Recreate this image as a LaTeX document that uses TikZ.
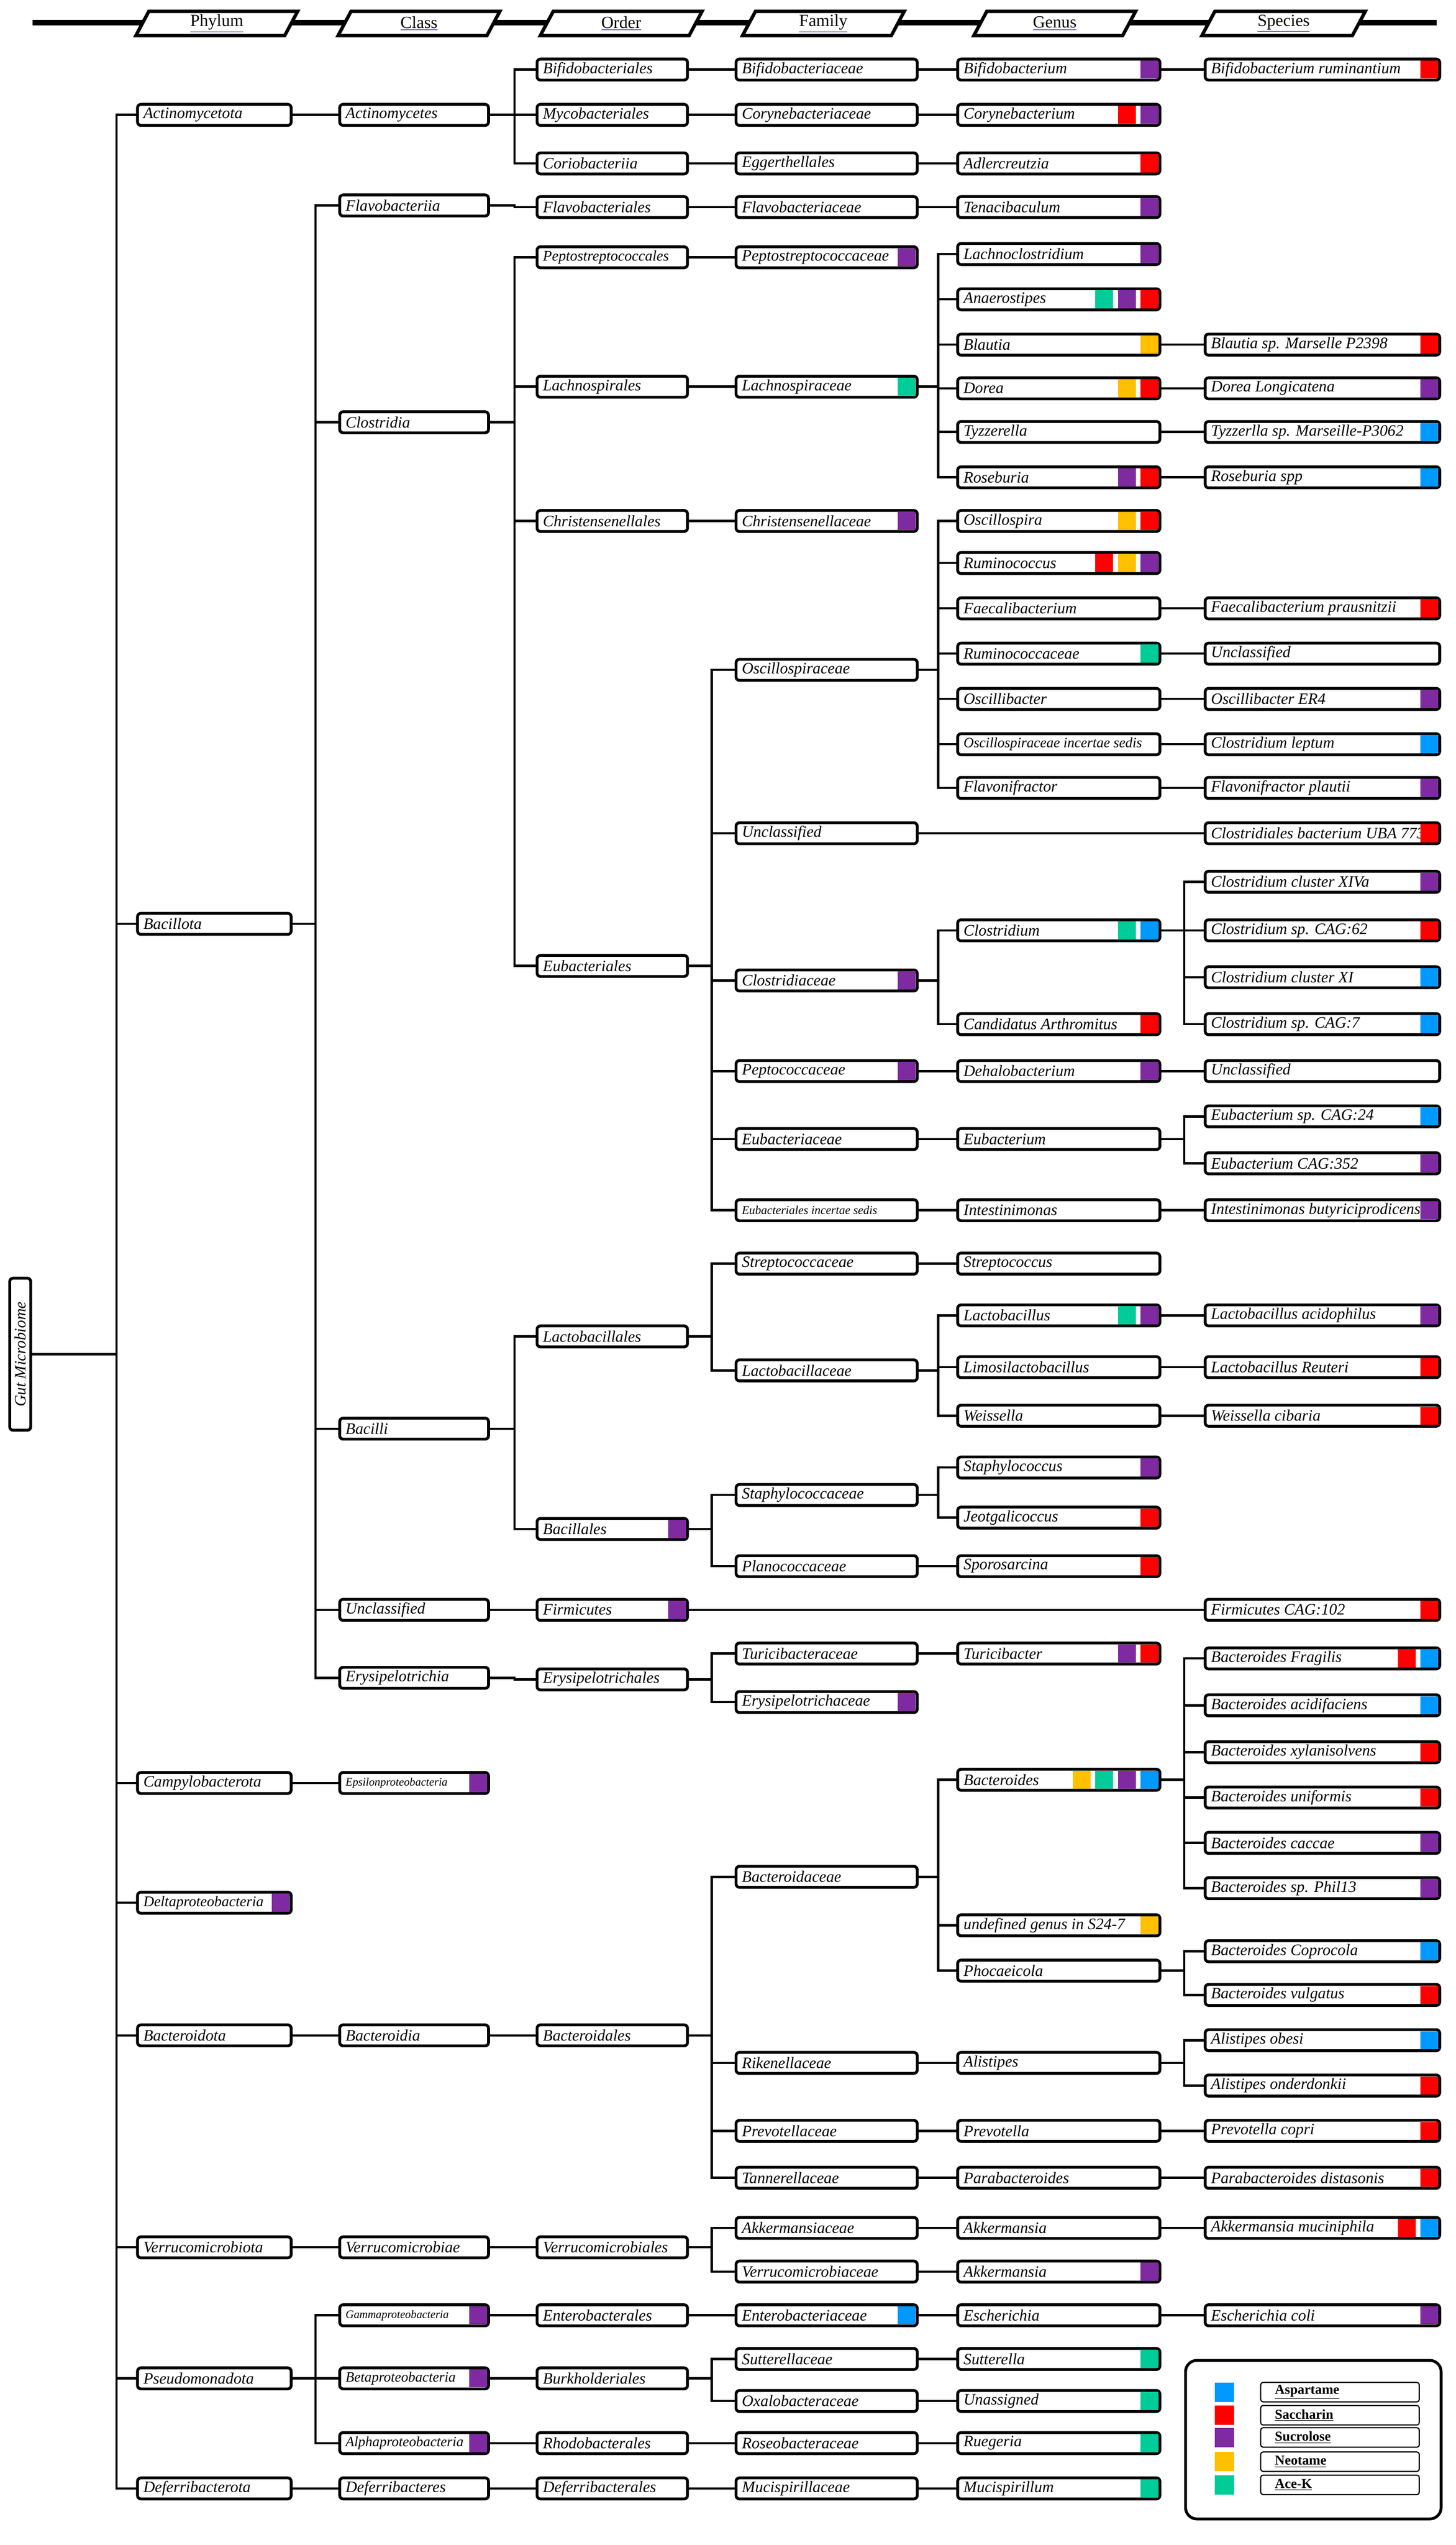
\documentclass[tikz,border=0pt]{standalone}
\usepackage{fontspec}
\setmainfont{Liberation Serif}
\usetikzlibrary{calc}
\definecolor{asp}{HTML}{0099FF}
\definecolor{sac}{HTML}{FF0000}
\definecolor{suc}{HTML}{7F2AA0}
\definecolor{neo}{HTML}{FFC000}
\definecolor{ace}{HTML}{00CC99}
\definecolor{hdrblue}{HTML}{1A1A99}
\tikzset{
 bx/.style={draw,fill=white,line width=2.5pt,rounded corners=3pt,minimum height=0.65cm,inner sep=0pt,outer sep=0pt,anchor=west},
 txt/.style={font=\fontsize{14}{16}\selectfont\itshape,inner sep=0pt},
 ln/.style={line width=2pt},
 hdr/.style={draw,fill=white,line width=3pt},
}
\newcommand\bx[6][]{\node[bx,minimum width={(#4-#3)*0.05cm}] (#2) at (#3,#5) {};
 \node[anchor=west,txt,#1] at ([xshift=5pt]#2.west) {#6};}
\newcommand\mk[2]{\foreach \c [count=\i] in {#2}{\fill[\c] ($(#1.east)+({-0.9-14*(\i-1)-11},-5.6)$) rectangle ($(#1.east)+({-0.9-14*(\i-1)},5.6)$);}}
\newcommand\cn[3]{\draw[ln] (#1.east) -| ([xshift=-#3*0.05cm]#2.west) -- (#2.west);}
\newcommand\bP[4][]{\bx[#1]{#2}{85}{180}{#3}{#4}}
\newcommand\bC[4][]{\bx[#1]{#2}{210}{302}{#3}{#4}}
\newcommand\bO[4][]{\bx[#1]{#2}{332}{425}{#3}{#4}}
\newcommand\bF[4][]{\bx[#1]{#2}{455}{567}{#3}{#4}}
\newcommand\bG[4][]{\bx[#1]{#2}{592}{717}{#3}{#4}}
\newcommand\bS[4][]{\bx[#1]{#2}{745}{890}{#3}{#4}}
\newcommand\hd[3]{\draw[hdr] (#1+4,7) -- (#2+4,7) -- (#2-4,22) -- (#1-4,22) -- cycle;
 \node[font=\fontsize{15}{17}\selectfont] at ({(#1+#2)/2},14.5) {{\color{hdrblue}\underline{{\color{black}#3}}}};}
\begin{document}
\begin{tikzpicture}[x=0.05cm,y=-0.05cm]
\useasboundingbox (0,0) rectangle (900,1573);
% header
\draw[line width=5pt] (20,14) -- (888,14);
\hd{88}{180}{Phylum}\hd{213}{305}{Class}\hd{338}{430}{Order}
\hd{463}{555}{Family}\hd{606}{698}{Genus}\hd{747}{840}{Species}
% root
\node[bx,anchor=center,minimum width=4.7cm,minimum height=0.65cm,rotate=90] (gut) at (12.5,837) {};
\node[txt,rotate=90] at (gut.center) {Gut Microbiome};
% phylum
\bP{pact}{71}{Actinomycetota}
\bP{pbac}{571}{Bacillota}
\bP{pcamp}{1102}{Campylobacterota}
\bP[font=\fontsize{13}{15}\selectfont\itshape]{pdelta}{1176}{Deltaproteobacteria}\mk{pdelta}{suc}
\bP{pbact}{1258}{Bacteroidota}
\bP{pverr}{1389}{Verrucomicrobiota}
\bP{ppseu}{1470}{Pseudomonadota}
\bP{pdef}{1538}{Deferribacterota}
% class
\bC{cact}{71}{Actinomycetes}
\bC{cflavo}{127}{Flavobacteriia}
\bC{cclos}{261}{Clostridia}
\bC{cbacilli}{883}{Bacilli}
\bC{cuncl}{995}{Unclassified}
\bC{cery}{1037}{Erysipelotrichia}
\bC[font=\fontsize{10}{12}\selectfont\itshape]{ceps}{1102}{Epsilonproteobacteria}\mk{ceps}{suc}
\bC{cbactd}{1258}{Bacteroidia}
\bC{cverr}{1389}{Verrucomicrobiae}
\bC[font=\fontsize{10}{12}\selectfont\itshape]{cgamma}{1431}{Gammaproteobacteria}\mk{cgamma}{suc}
\bC[font=\fontsize{12.5}{14}\selectfont\itshape]{cbeta}{1470}{Betaproteobacteria}\mk{cbeta}{suc}
\bC[font=\fontsize{12.5}{14}\selectfont\itshape]{calpha}{1510}{Alphaproteobacteria}\mk{calpha}{suc}
\bC{cdef}{1538}{Deferribacteres}
% order
\bO{obifido}{43}{Bifidobacteriales}
\bO{omyco}{71}{Mycobacteriales}
\bO{ocorio}{101}{Coriobacteriia}
\bO{oflavo}{128}{Flavobacteriales}
\bO[font=\fontsize{13}{15}\selectfont\itshape]{opepto}{159}{Peptostreptococcales}
\bO{olachno}{239}{Lachnospirales}
\bO{ochrist}{322}{Christensenellales}
\bO{oeubact}{597}{Eubacteriales}
\bO{olacto}{826}{Lactobacillales}
\bO{obacil}{945}{Bacillales}\mk{obacil}{suc}
\bO{ofirm}{995}{Firmicutes}\mk{ofirm}{suc}
\bO{oery}{1038}{Erysipelotrichales}
\bO{obacteroidales}{1258}{Bacteroidales}
\bO{overr}{1389}{Verrucomicrobiales}
\bO{oentero}{1431}{Enterobacterales}
\bO{oburk}{1470}{Burkholderiales}
\bO{orhodo}{1510}{Rhodobacterales}
\bO{odef}{1538}{Deferribacterales}
% family
\bF{fbifido}{43}{Bifidobacteriaceae}
\bF{fcoryne}{71}{Corynebacteriaceae}
\bF{fegg}{101}{Eggerthellales}
\bF{fflavo}{128}{Flavobacteriaceae}
\bF{fpepto}{159}{Peptostreptococcaceae}\mk{fpepto}{suc}
\bF{flachno}{239}{Lachnospiraceae}\mk{flachno}{ace}
\bF{fchrist}{322}{Christensenellaceae}\mk{fchrist}{suc}
\bF{foscillo}{414}{Oscillospiraceae}
\bF{funcl}{515}{Unclassified}
\bF{fclostr}{606}{Clostridiaceae}\mk{fclostr}{suc}
\bF{fpeptoc}{662}{Peptococcaceae}\mk{fpeptoc}{suc}
\bF{feubac}{704}{Eubacteriaceae}
\bF[font=\fontsize{10.5}{12}\selectfont\itshape]{fincert}{748}{Eubacteriales incertae sedis}
\bF{fstrep}{781}{Streptococcaceae}
\bF{flactob}{847}{Lactobacillaceae}
\bF{fstaph}{924}{Staphylococcaceae}
\bF{fplano}{968}{Planococcaceae}
\bF{fturici}{1022}{Turicibacteraceae}
\bF{ferysip}{1052}{Erysipelotrichaceae}\mk{ferysip}{suc}
\bF{fbacteroid}{1160}{Bacteroidaceae}
\bF{friken}{1275}{Rikenellaceae}
\bF{fprevot}{1317}{Prevotellaceae}
\bF{ftanner}{1346}{Tannerellaceae}
\bF{fakk}{1377}{Akkermansiaceae}
\bF{fverrm}{1404}{Verrucomicrobiaceae}
\bF{fentero}{1431}{Enterobacteriaceae}\mk{fentero}{asp}
\bF{fsutter}{1458}{Sutterellaceae}
\bF{foxalo}{1484}{Oxalobacteraceae}
\bF{froseo}{1510}{Roseobacteraceae}
\bF{fmucis}{1538}{Mucispirillaceae}
% genus
\bG{gbifido}{43}{Bifidobacterium}\mk{gbifido}{suc}
\bG{gcoryne}{71}{Corynebacterium}\mk{gcoryne}{suc,sac}
\bG{gadler}{101}{Adlercreutzia}\mk{gadler}{sac}
\bG{gtenaci}{128}{Tenacibaculum}\mk{gtenaci}{suc}
\bG{glachno}{157}{Lachnoclostridium}\mk{glachno}{suc}
\bG{ganaero}{185}{Anaerostipes}\mk{ganaero}{sac,suc,ace}
\bG{gblautia}{213}{Blautia}\mk{gblautia}{neo}
\bG{gdorea}{240}{Dorea}\mk{gdorea}{sac,neo}
\bG{gtyzz}{267}{Tyzzerella}
\bG{grose}{295}{Roseburia}\mk{grose}{sac,suc}
\bG{goscsp}{322}{Oscillospira}\mk{goscsp}{sac,neo}
\bG{grumino}{348}{Ruminococcus}\mk{grumino}{suc,neo,sac}
\bG{gfaecal}{376}{Faecalibacterium}
\bG{grumcae}{404}{Ruminococcaceae}\mk{grumcae}{ace}
\bG{goscb}{432}{Oscillibacter}
\bG[font=\fontsize{12.5}{14}\selectfont\itshape]{gincert}{460}{Oscillospiraceae incertae sedis}
\bG{gflavon}{487}{Flavonifractor}
\bG{gclostr}{575}{Clostridium}\mk{gclostr}{asp,ace}
\bG{gcandid}{633}{Candidatus Arthromitus}\mk{gcandid}{sac}
\bG{gdehalo}{662}{Dehalobacterium}\mk{gdehalo}{suc}
\bG{geubact}{704}{Eubacterium}
\bG{gintest}{748}{Intestinimonas}
\bG{gstrep}{781}{Streptococcus}
\bG{glactob}{813}{Lactobacillus}\mk{glactob}{suc,ace}
\bG{glimosi}{845}{Limosilactobacillus}
\bG{gweiss}{875}{Weissella}
\bG{gstaph}{907}{Staphylococcus}\mk{gstaph}{suc}
\bG{gjeot}{938}{Jeotgalicoccus}\mk{gjeot}{sac}
\bG{gsporo}{968}{Sporosarcina}\mk{gsporo}{sac}
\bG{gturici}{1022}{Turicibacter}\mk{gturici}{sac,suc}
\bG{gbacter}{1100}{Bacteroides}\mk{gbacter}{asp,suc,ace,neo}
\bG{gundef}{1190}{undefined genus in S24-7}\mk{gundef}{neo}
\bG{gphoc}{1218}{Phocaeicola}
\bG{galist}{1275}{Alistipes}
\bG{gprevot}{1317}{Prevotella}
\bG{gparab}{1346}{Parabacteroides}
\bG{gakka}{1377}{Akkermansia}
\bG{gakkb}{1404}{Akkermansia}\mk{gakkb}{suc}
\bG{gesch}{1431}{Escherichia}
\bG{gsutter}{1458}{Sutterella}\mk{gsutter}{ace}
\bG{gunass}{1484}{Unassigned}\mk{gunass}{ace}
\bG{grueg}{1510}{Ruegeria}\mk{grueg}{ace}
\bG{gmucis}{1538}{Mucispirillum}\mk{gmucis}{ace}
% species
\bS{sbifido}{43}{Bifidobacterium ruminantium}\mk{sbifido}{sac}
\bS{sblautia}{213}{Blautia sp. Marselle P2398}\mk{sblautia}{sac}
\bS{sdorea}{240}{Dorea Longicatena}\mk{sdorea}{suc}
\bS{styzz}{267}{Tyzzerlla sp. Marseille-P3062}\mk{styzz}{asp}
\bS{srose}{295}{Roseburia spp}\mk{srose}{asp}
\bS{sfaecal}{376}{Faecalibacterium prausnitzii}\mk{sfaecal}{sac}
\bS{suncla}{404}{Unclassified}
\bS{soscer}{432}{Oscillibacter ER4}\mk{soscer}{suc}
\bS{sleptum}{460}{Clostridium leptum}\mk{sleptum}{asp}
\bS{splautii}{487}{Flavonifractor plautii}\mk{splautii}{suc}
\bS{suba}{515}{Clostridiales bacterium UBA 7739}\mk{suba}{sac}
\bS{sxiva}{545}{Clostridium cluster XIVa}\mk{sxiva}{suc}
\bS{scag62}{575}{Clostridium sp. CAG:62}\mk{scag62}{sac}
\bS{sxi}{604}{Clostridium cluster XI}\mk{sxi}{asp}
\bS{scag7}{633}{Clostridium sp. CAG:7}\mk{scag7}{asp}
\bS{sunclb}{662}{Unclassified}
\bS{scag24}{690}{Eubacterium sp. CAG:24}\mk{scag24}{asp}
\bS{scag352}{719}{Eubacterium CAG:352}\mk{scag352}{suc}
\bS{sintest}{748}{Intestinimonas butyriciprodicens}\mk{sintest}{suc}
\bS{sacido}{813}{Lactobacillus acidophilus}\mk{sacido}{suc}
\bS{sreut}{845}{Lactobacillus Reuteri}\mk{sreut}{sac}
\bS{scibar}{875}{Weissella cibaria}\mk{scibar}{sac}
\bS{sfirm}{995}{Firmicutes CAG:102}\mk{sfirm}{sac}
\bS{sfrag}{1025}{Bacteroides Fragilis}\mk{sfrag}{asp,sac}
\bS{sacidif}{1054}{Bacteroides acidifaciens}\mk{sacidif}{asp}
\bS{sxylan}{1083}{Bacteroides xylanisolvens}\mk{sxylan}{sac}
\bS{sunif}{1111}{Bacteroides uniformis}\mk{sunif}{sac}
\bS{scaccae}{1139}{Bacteroides caccae}\mk{scaccae}{suc}
\bS{sphil}{1167}{Bacteroides sp. Phil13}\mk{sphil}{suc}
\bS{scopro}{1206}{Bacteroides Coprocola}\mk{scopro}{asp}
\bS{svulg}{1233}{Bacteroides vulgatus}\mk{svulg}{sac}
\bS{sobesi}{1261}{Alistipes obesi}\mk{sobesi}{asp}
\bS{sonder}{1289}{Alistipes onderdonkii}\mk{sonder}{sac}
\bS{scopri}{1317}{Prevotella copri}\mk{scopri}{sac}
\bS{sdist}{1346}{Parabacteroides distasonis}\mk{sdist}{sac}
\bS{smucin}{1377}{Akkermansia muciniphila}\mk{smucin}{asp,sac}
\bS{scoli}{1431}{Escherichia coli}\mk{scoli}{suc}
% connectors root->phylum
\foreach \p in {pact,pbac,pcamp,pdelta,pbact,pverr,ppseu,pdef}{\draw[ln] (gut.south) -| ([xshift=-13*0.05cm]\p.west) -- (\p.west);}
\cn{pact}{cact}{15}
\foreach \c in {cflavo,cclos,cbacilli,cuncl,cery}{\cn{pbac}{\c}{15}}
\cn{pcamp}{ceps}{15}\cn{pbact}{cbactd}{15}\cn{pverr}{cverr}{15}
\foreach \c in {cgamma,cbeta,calpha}{\cn{ppseu}{\c}{15}}
\cn{pdef}{cdef}{15}
% class->order
\foreach \c in {obifido,omyco,ocorio}{\cn{cact}{\c}{14}}
\cn{cflavo}{oflavo}{14}
\foreach \c in {opepto,olachno,ochrist,oeubact}{\cn{cclos}{\c}{14}}
\foreach \c in {olacto,obacil}{\cn{cbacilli}{\c}{14}}
\cn{cuncl}{ofirm}{14}\cn{cery}{oery}{14}\cn{cbactd}{obacteroidales}{14}
\cn{cverr}{overr}{14}\cn{cgamma}{oentero}{14}\cn{cbeta}{oburk}{14}
\cn{calpha}{orhodo}{14}\cn{cdef}{odef}{14}
% order->family
\cn{obifido}{fbifido}{15}\cn{omyco}{fcoryne}{15}\cn{ocorio}{fegg}{15}
\cn{oflavo}{fflavo}{15}\cn{opepto}{fpepto}{15}\cn{olachno}{flachno}{15}
\cn{ochrist}{fchrist}{15}
\foreach \c in {foscillo,funcl,fclostr,fpeptoc,feubac,fincert}{\cn{oeubact}{\c}{15}}
\foreach \c in {fstrep,flactob}{\cn{olacto}{\c}{15}}
\foreach \c in {fstaph,fplano}{\cn{obacil}{\c}{15}}
\cn{ofirm}{sfirm}{15}
\foreach \c in {fturici,ferysip}{\cn{oery}{\c}{15}}
\foreach \c in {fbacteroid,friken,fprevot,ftanner}{\cn{obacteroidales}{\c}{15}}
\foreach \c in {fakk,fverrm}{\cn{overr}{\c}{15}}
\cn{oentero}{fentero}{15}
\foreach \c in {fsutter,foxalo}{\cn{oburk}{\c}{15}}
\cn{orhodo}{froseo}{15}\cn{odef}{fmucis}{15}
% family->genus
\cn{fbifido}{gbifido}{12}\cn{fcoryne}{gcoryne}{12}\cn{fegg}{gadler}{12}\cn{fflavo}{gtenaci}{12}
\foreach \c in {glachno,ganaero,gblautia,gdorea,gtyzz,grose}{\cn{flachno}{\c}{12}}
\foreach \c in {goscsp,grumino,gfaecal,grumcae,goscb,gincert,gflavon}{\cn{foscillo}{\c}{12}}
\cn{funcl}{suba}{12}
\foreach \c in {gclostr,gcandid}{\cn{fclostr}{\c}{12}}
\cn{fpeptoc}{gdehalo}{12}\cn{feubac}{geubact}{12}\cn{fincert}{gintest}{12}\cn{fstrep}{gstrep}{12}
\foreach \c in {glactob,glimosi,gweiss}{\cn{flactob}{\c}{12}}
\foreach \c in {gstaph,gjeot}{\cn{fstaph}{\c}{12}}
\cn{fplano}{gsporo}{12}\cn{fturici}{gturici}{12}
\foreach \c in {gbacter,gundef,gphoc}{\cn{fbacteroid}{\c}{12}}
\cn{friken}{galist}{12}\cn{fprevot}{gprevot}{12}\cn{ftanner}{gparab}{12}
\cn{fakk}{gakka}{12}\cn{fverrm}{gakkb}{12}\cn{fentero}{gesch}{12}
\cn{fsutter}{gsutter}{12}\cn{foxalo}{gunass}{12}\cn{froseo}{grueg}{12}\cn{fmucis}{gmucis}{12}
% genus->species
\cn{gbifido}{sbifido}{13}\cn{gblautia}{sblautia}{13}\cn{gdorea}{sdorea}{13}\cn{gtyzz}{styzz}{13}
\cn{grose}{srose}{13}\cn{gfaecal}{sfaecal}{13}\cn{grumcae}{suncla}{13}\cn{goscb}{soscer}{13}
\cn{gincert}{sleptum}{13}\cn{gflavon}{splautii}{13}
\foreach \c in {sxiva,scag62,sxi,scag7}{\cn{gclostr}{\c}{13}}
\cn{gdehalo}{sunclb}{13}
\foreach \c in {scag24,scag352}{\cn{geubact}{\c}{13}}
\cn{gintest}{sintest}{13}\cn{glactob}{sacido}{13}\cn{glimosi}{sreut}{13}\cn{gweiss}{scibar}{13}
\foreach \c in {sfrag,sacidif,sxylan,sunif,scaccae,sphil}{\cn{gbacter}{\c}{13}}
\foreach \c in {scopro,svulg}{\cn{gphoc}{\c}{13}}
\foreach \c in {sobesi,sonder}{\cn{galist}{\c}{13}}
\cn{gprevot}{scopri}{13}\cn{gparab}{sdist}{13}\cn{gakka}{smucin}{13}\cn{gesch}{scoli}{13}
% legend
\node[draw,line width=2.5pt,rounded corners=10pt,minimum width=7.9cm,minimum height=4.9cm,anchor=north west,inner sep=0pt] (leg) at (732,1458) {};
\foreach \y/\c/\t [count=\k] in {1478.5/asp/Aspartame,1492.8/sac/Saccharin,1506.5/suc/Sucrolose,1521.5/neo/Neotame,1535.8/ace/Ace-K}{
 \fill[\c] (751,\y-6) rectangle (763,\y+6);
 \node[draw,line width=1pt,rounded corners=2pt,minimum width=4.9cm,minimum height=0.6cm,anchor=west,inner sep=0pt] (lg\k) at (779,\y) {};
 \node[anchor=west,inner sep=0pt,font=\fontsize{12}{14}\selectfont\bfseries] at ([xshift=9*0.05cm]lg\k.west) {\underline{\t}};
}
\end{tikzpicture}
\end{document}
